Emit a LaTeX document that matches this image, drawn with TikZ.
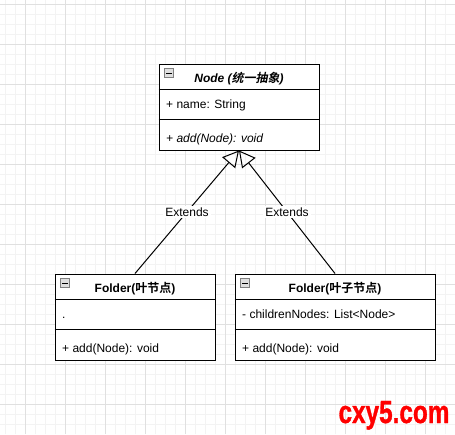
\documentclass[tikz,border=0pt]{standalone}
\usepackage{fontspec}
\setmainfont{Liberation Sans}
\newfontfamily\cjk{Noto Sans CJK SC}[BoldFont={Noto Sans CJK SC Bold}, ItalicFont={Noto Sans CJK SC}, ItalicFeatures={FakeSlant=0.2}, BoldItalicFont={Noto Sans CJK SC Bold}, BoldItalicFeatures={FakeSlant=0.2}]
\newfontfamily\wmfont{Liberation Sans}[UprightFont={Liberation Sans Bold}, UprightFeatures={FakeBold=1.2}]
\usetikzlibrary{arrows.meta}
\definecolor{gridmajor}{HTML}{E0E0E0}
\definecolor{gridminor}{HTML}{F3F3F3}
\definecolor{wmred}{HTML}{FF0000}
\begin{document}
\begin{tikzpicture}[x=1pt,y=-1pt,
  txt/.style={font=\fontsize{12}{14}\selectfont, inner sep=0pt, text=black},
  classbox/.style={draw=black, line width=1pt, inner sep=0pt, fill=white},
  sepline/.style={draw=black, line width=1pt},
  iconbox/.style={draw=gray, fill=gray!25, line width=0.6pt, minimum size=8.5pt, inner sep=0pt,
    path picture={\draw[black, line width=0.9pt] ([xshift=1.6pt]path picture bounding box.west) -- ([xshift=-1.6pt]path picture bounding box.east);}},
  ext/.style={draw=black, line width=1pt, -{Triangle[open, length=16pt, width=17pt]}},
  lbl/.style={txt, fill=white, inner sep=2pt},
  wm/.style={inner sep=0pt, text=wmred, font=\fontsize{32}{34}\selectfont\wmfont}
]
\useasboundingbox (0,0) rectangle (455,434);
\fill[white] (0,0) rectangle (455,434);
% grid
\foreach \x in {5,15,...,455} \draw[gridminor, line width=1pt] (\x,0) -- (\x,434);
\foreach \y in {4.3,14.3,...,434} \draw[gridminor, line width=1pt] (0,\y) -- (455,\y);
\foreach \x in {25,65,...,455} \draw[gridmajor, line width=1pt] (\x,0) -- (\x,434);
\foreach \y in {4.3,44.3,...,434} \draw[gridmajor, line width=1pt] (0,\y) -- (455,\y);

% Node (abstract)
\node[classbox, minimum width=160pt, minimum height=86pt] (base) at (239,107) {};
\draw[sepline] ([yshift=-26pt]base.north west) -- ([yshift=-26pt]base.north east);
\draw[sepline] ([yshift=-56pt]base.north west) -- ([yshift=-56pt]base.north east);
\node[iconbox] (baseI) at (169,73) {};
\node[txt, anchor=base] (baseT) at (239,82) {\bfseries\itshape Node ({\cjk 统一抽象})};
\node[txt, anchor=base west] (baseA) at (166,108) {+ name: String};
\node[txt, anchor=base west] (baseM) at (166,142) {\itshape + add(Node): void};

% Folder (leaf)
\node[classbox, minimum width=160pt, minimum height=86pt] (leaf) at (135,317) {};
\draw[sepline] ([yshift=-26pt]leaf.north west) -- ([yshift=-26pt]leaf.north east);
\draw[sepline] ([yshift=-56pt]leaf.north west) -- ([yshift=-56pt]leaf.north east);
\node[iconbox] (leafI) at (65,283) {};
\node[txt, anchor=base] (leafT) at (135,292.5) {\bfseries Folder({\cjk 叶节点})};
\node[txt, anchor=base west] (leafA) at (62,318) {.};
\node[txt, anchor=base west] (leafM) at (62,352) {+ add(Node): void};

% Folder (composite)
\node[classbox, minimum width=200pt, minimum height=86pt] (comp) at (335,317) {};
\draw[sepline] ([yshift=-26pt]comp.north west) -- ([yshift=-26pt]comp.north east);
\draw[sepline] ([yshift=-56pt]comp.north west) -- ([yshift=-56pt]comp.north east);
\node[iconbox] (compI) at (245,283) {};
\node[txt, anchor=base] (compT) at (335,292.5) {\bfseries Folder({\cjk 叶子节点})};
\node[txt, anchor=base west] (compA) at (242,318) {- childrenNodes: List<Node>};
\node[txt, anchor=base west] (compM) at (242,352) {+ add(Node): void};

% Extends connectors
\draw[ext] (leaf.north) -- node[lbl, midway] (l1) {Extends} (base.south);
\draw[ext] (comp.north) -- node[lbl, midway] (l2) {Extends} (base.south);

% watermark
\node[wm, anchor=base] (wmark) at (394,423) {\scalebox{0.76}[1]{cxy5.com}};
\end{tikzpicture}
\end{document}
